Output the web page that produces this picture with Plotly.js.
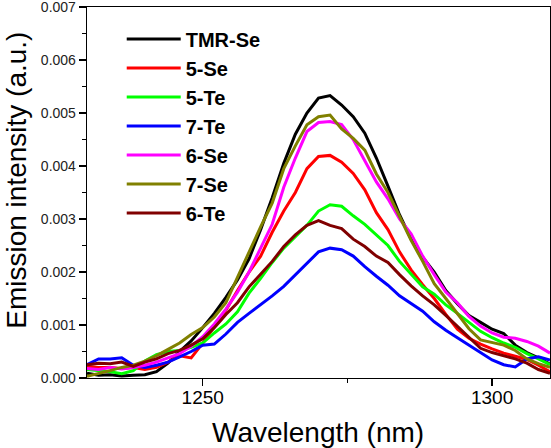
<!DOCTYPE html>
<html>
<head>
<meta charset="utf-8">
<script src="https://cdn.plot.ly/plotly-3.0.1.min.js"></script>
<style>html,body{margin:0;padding:0;background:#fff;}#chart{width:551px;height:448px;}</style>
</head>
<body>
<div id="chart"></div>
<script>
const wavelength = [1230,1232,1234,1236,1238,1240,1242,1244,1246,1248,1250,1252,1254,1256,1258,1260,1262,1264,1266,1268,1270,1272,1274,1276,1278,1280,1282,1284,1286,1288,1290,1292,1294,1296,1298,1300,1302,1304,1306,1308,1310];
const seriesNames = ["TMR-Se","5-Se","5-Te","7-Te","6-Se","7-Se","6-Te"];
const seriesColors = ["#000000","#ff0000","#00ff00","#0000ff","#ff00ff","#808000","#800000"];
// intensities in units of 1e-3 a.u.
const tmrSe = [0.09,0.05,0.06,0.04,0.05,0.06,0.12,0.28,0.50,0.70,0.95,1.22,1.52,1.85,2.25,2.80,3.40,4.05,4.60,5.00,5.28,5.33,5.15,4.93,4.62,4.15,3.62,3.08,2.62,2.28,2.00,1.65,1.40,1.18,1.05,0.92,0.84,0.62,0.48,0.38,0.26];
const se5 = [0.22,0.20,0.20,0.18,0.20,0.16,0.20,0.30,0.42,0.38,0.66,0.98,1.28,1.65,2.00,2.30,2.75,3.15,3.50,3.95,4.18,4.20,4.07,3.86,3.55,3.12,2.80,2.38,2.04,1.76,1.50,1.20,0.92,0.75,0.64,0.55,0.47,0.41,0.35,0.24,0.12];
const te5 = [0.16,0.14,0.12,0.08,0.14,0.32,0.44,0.50,0.52,0.58,0.66,0.85,1.02,1.25,1.60,1.88,2.18,2.45,2.66,2.88,3.15,3.27,3.24,3.06,2.90,2.70,2.50,2.20,1.95,1.72,1.58,1.38,1.22,1.05,0.88,0.76,0.66,0.58,0.46,0.36,0.25];
const te7 = [0.25,0.36,0.36,0.38,0.24,0.20,0.24,0.30,0.40,0.50,0.62,0.64,0.83,1.05,1.22,1.38,1.55,1.73,1.95,2.18,2.38,2.45,2.42,2.30,2.10,1.92,1.75,1.55,1.40,1.26,1.06,0.90,0.76,0.62,0.48,0.34,0.25,0.21,0.36,0.40,0.34];
const se6 = [0.18,0.16,0.20,0.17,0.20,0.24,0.30,0.38,0.46,0.60,0.78,1.02,1.30,1.62,2.00,2.45,2.90,3.60,4.15,4.65,4.82,4.84,4.78,4.50,4.10,3.70,3.38,3.00,2.72,2.30,1.95,1.62,1.42,1.16,0.98,0.85,0.77,0.75,0.69,0.60,0.47];
const se7 = [0.03,0.08,0.14,0.20,0.24,0.32,0.42,0.54,0.66,0.82,0.95,1.15,1.42,1.90,2.38,2.85,3.30,3.95,4.38,4.78,4.93,4.96,4.70,4.52,4.30,3.85,3.50,3.05,2.60,2.20,1.78,1.50,1.22,0.93,0.72,0.67,0.62,0.52,0.36,0.27,0.20];
const te6 = [0.25,0.28,0.27,0.30,0.22,0.30,0.36,0.46,0.52,0.62,0.74,0.95,1.20,1.42,1.72,1.97,2.20,2.48,2.70,2.88,2.97,2.88,2.82,2.62,2.48,2.30,2.18,1.95,1.74,1.55,1.38,1.18,0.97,0.76,0.56,0.48,0.42,0.36,0.28,0.16,0.09];
const seriesValues = [tmrSe, se5, te5, te7, se6, se7, te6];
const xTickVals = [1250, 1300];
const yTickVals = [0, 0.001, 0.002, 0.003, 0.004, 0.005, 0.006, 0.007];
const xTitle = "Wavelength (nm)";
const yTitle = "Emission intensity (a.u.)";

const FONT = "Arial, 'Liberation Sans', sans-serif";
const traces = seriesNames.map((name, i) => ({
  type: "scatter", mode: "lines", name: name,
  x: wavelength,
  y: seriesValues[i].map(v => v / 1000),
  line: {color: seriesColors[i], width: 3}
}));

const layout = {
  width: 551, height: 448,
  margin: {l: 87, r: 1, t: 7, b: 70},
  paper_bgcolor: "#fff", plot_bgcolor: "#fff",
  showlegend: true,
  legend: {
    x: 0.075, y: 0.966, xanchor: "left", yanchor: "top",
    bgcolor: "rgba(0,0,0,0)", borderwidth: 0,
    font: {family: FONT, size: 20, color: "#000", weight: "bold"},
    itemwidth: 54, tracegroupgap: 0
  },
  xaxis: {
    range: [1230, 1310], tickvals: xTickVals, ticktext: xTickVals.map(String),
    ticks: "outside", ticklen: 7, tickwidth: 1.3, tickcolor: "#000",
    showline: true, linecolor: "#000", linewidth: 1.3, mirror: true,
    showgrid: false, zeroline: false, ticklabelstandoff: -5,
    tickfont: {family: FONT, size: 19, color: "#000"},
    minor: {dtick: 25, tick0: 1250, ticks: "outside", ticklen: 4, tickwidth: 1.3, tickcolor: "#000", showgrid: false}
  },
  yaxis: {
    range: [0, 0.0070001], tickvals: yTickVals, ticktext: yTickVals.map(v => v.toFixed(3)),
    ticks: "outside", ticklen: 7, tickwidth: 1.3, tickcolor: "#000",
    showline: true, linecolor: "#000", linewidth: 1.3, mirror: true,
    showgrid: false, zeroline: false, ticklabeloverflow: "allow",
    tickfont: {family: FONT, size: 14, color: "#222"},
    minor: {dtick: 0.0005, tick0: 0, ticks: "outside", ticklen: 4, tickwidth: 1.3, tickcolor: "#000", showgrid: false}
  },
  annotations: [
    {text: xTitle, xref: "paper", yref: "paper", x: 0.499, y: -0.1456, xanchor: "center", yanchor: "middle",
     showarrow: false, font: {family: FONT, size: 28, color: "#000"}},
    {text: yTitle, xref: "paper", yref: "paper", x: -0.153, y: 0.532, xanchor: "center", yanchor: "middle",
     textangle: -90, showarrow: false, font: {family: FONT, size: 28, color: "#000"}}
  ]
};

Plotly.newPlot("chart", traces, layout, {displayModeBar: false, staticPlot: true});
</script>
</body>
</html>
